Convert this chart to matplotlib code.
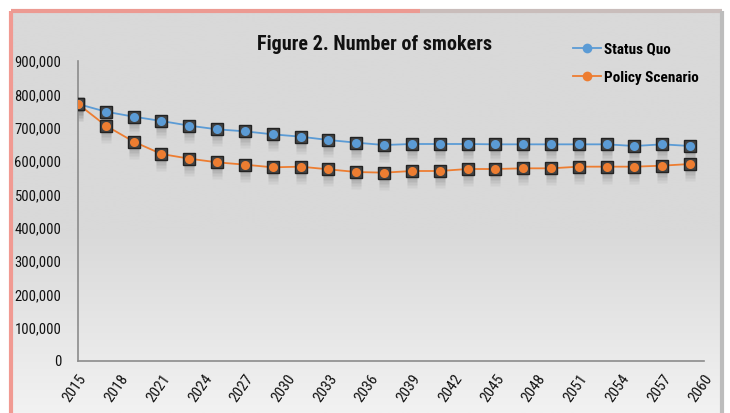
import matplotlib
matplotlib.use("Agg")
import matplotlib.pyplot as plt
import matplotlib.transforms as mtransforms
from matplotlib.lines import Line2D
from matplotlib import font_manager
import numpy as np

years = [2015, 2017, 2019, 2021, 2023, 2025, 2027, 2029, 2031, 2033, 2035, 2037,
         2039, 2041, 2043, 2045, 2047, 2049, 2051, 2053, 2055, 2057, 2059]
status_quo = [771000, 748000, 733000, 720000, 706000, 695000, 689000, 680000,
              673000, 663000, 655000, 648000, 651000, 651000, 651000, 650000,
              650000, 650000, 650000, 650000, 645000, 650000, 645000]
policy = [771000, 706000, 658000, 621000, 607000, 596000, 589000, 581000,
          583000, 575000, 567000, 565000, 570000, 570000, 576000, 576000,
          578000, 578000, 583000, 583000, 583000, 586000, 591000]
tick_years = list(range(2015, 2061, 3))
yticks = list(range(0, 900001, 100000))
title = "Figure 2. Number of smokers"
series_names = ["Status Quo", "Policy Scenario"]
colors = ["#5b9bd5", "#ed7d31"]

# choose a narrow font if one is installed
names = {f.name for f in font_manager.fontManager.ttflist}
stretch = "normal"
condensed = False
family = "Roboto"
for cand in ["Roboto Condensed", "Liberation Sans Narrow", "Open Sans Condensed",
             "DejaVu Sans Condensed", "Noto Sans Condensed"]:
    if cand in names:
        family = cand
        condensed = True
        break
if not condensed:
    for f in font_manager.fontManager.ttflist:
        if f.name in ("DejaVu Sans", "Noto Sans", "Open Sans", "Roboto") and \
                str(f.stretch) in ("condensed", "semi-condensed", "extra-condensed"):
            family = f.name
            stretch = "condensed"
            condensed = True
            break
plt.rcParams["font.family"] = [family, "DejaVu Sans"]
plt.rcParams["font.stretch"] = stretch
scale = 1.0 if condensed else 0.85

W, H = 730, 413
fig = plt.figure(figsize=(W / 100, H / 100), dpi=100)
fig.patch.set_facecolor("white")

# background frame with gradient
bg = fig.add_axes([0, 0, 1, 1], zorder=-10)
bg.set_xlim(0, W)
bg.set_ylim(H, 0)
bg.axis("off")
grad = np.linspace(0, 1, 200).reshape(-1, 1)
top_c = np.array([217, 217, 217]) / 255
bot_c = np.array([242, 242, 242]) / 255
img = top_c + (bot_c - top_c) * np.clip((grad - 0.55) / 0.45, 0, 1)
img = img.reshape(200, 1, 3)
bg.imshow(img, extent=[11, 721, H, 11], aspect="auto", interpolation="bilinear")
bg.plot([11, 11], [11, H], color="#f19a92", lw=3, solid_capstyle="butt")
bg.plot([11, 420], [11, 11], color="#ec9a92", lw=3, solid_capstyle="butt")
bg.plot([420, 722], [11, 11], color="#c9bdbb", lw=3, solid_capstyle="butt")
bg.plot([721.5, 721.5], [11, H], color="#bdbdbd", lw=3, solid_capstyle="butt")

ax = fig.add_axes([78 / W, 1 - 361 / H, (704 - 78) / W, (361 - 61) / H])
ax.set_facecolor("none")
ax.set_xlim(2015, 2060)
ax.set_ylim(0, 900000)
ax.set_xticks(tick_years)
ax.set_xticklabels([str(t) for t in tick_years], rotation=55, ha="right",
                   va="top", rotation_mode="anchor", fontsize=11 * scale)
ax.set_yticks(yticks)
ax.set_yticklabels([f"{v:,}" for v in yticks], fontsize=10.5 * scale)
ax.tick_params(axis="both", length=0, pad=12, colors="#111111")
ax.tick_params(axis="x", pad=8)
for s in ["top", "right"]:
    ax.spines[s].set_visible(False)
for s in ["left", "bottom"]:
    ax.spines[s].set_color("#8c8c8c")
    ax.spines[s].set_linewidth(1.2)

# soft shadows below markers
for k, off in enumerate([-3, -6, -9, -12]):
    tr = mtransforms.offset_copy(ax.transData, fig=fig, x=0, y=off, units="dots")
    for vals in [status_quo, policy]:
        ax.plot(years, vals, linestyle="none", marker="s", markersize=7.5,
                markerfacecolor="#808080", markeredgecolor="none",
                alpha=0.22 - 0.04 * k, transform=tr, zorder=2)

for vals, c in zip([status_quo, policy], colors):
    ax.plot(years, vals, color=c, lw=1.3, zorder=3)
    ax.plot(years, vals, linestyle="none", marker="s", markersize=8.5,
            markerfacecolor="#444444", markeredgecolor="#222222",
            markeredgewidth=1.0, zorder=4)
    ax.plot(years, vals, linestyle="none", marker="o", markersize=6.5,
            markerfacecolor=c, markeredgecolor="none", zorder=5)

fig.text(375 / W, 1 - 45 / H, title, ha="center", va="center",
         fontsize=14.5 * scale, fontweight="bold", color="#111111")

handles = [Line2D([0], [0], color=c, lw=1.3, marker="o", markersize=7,
                  markerfacecolor=c, markeredgecolor="none") for c in colors]
leg = fig.legend(handles, series_names, loc="upper left",
                 bbox_to_anchor=(573 / W, 1 - 42 / H), frameon=False,
                 borderaxespad=0, borderpad=0,
                 handlelength=1.8, handletextpad=0.25,
                 labelspacing=0.95, prop={"weight": "bold", "size": 11 * scale,
                                          "family": [family, "DejaVu Sans"],
                                          "stretch": stretch})

fig.savefig("out.png", dpi=100)
